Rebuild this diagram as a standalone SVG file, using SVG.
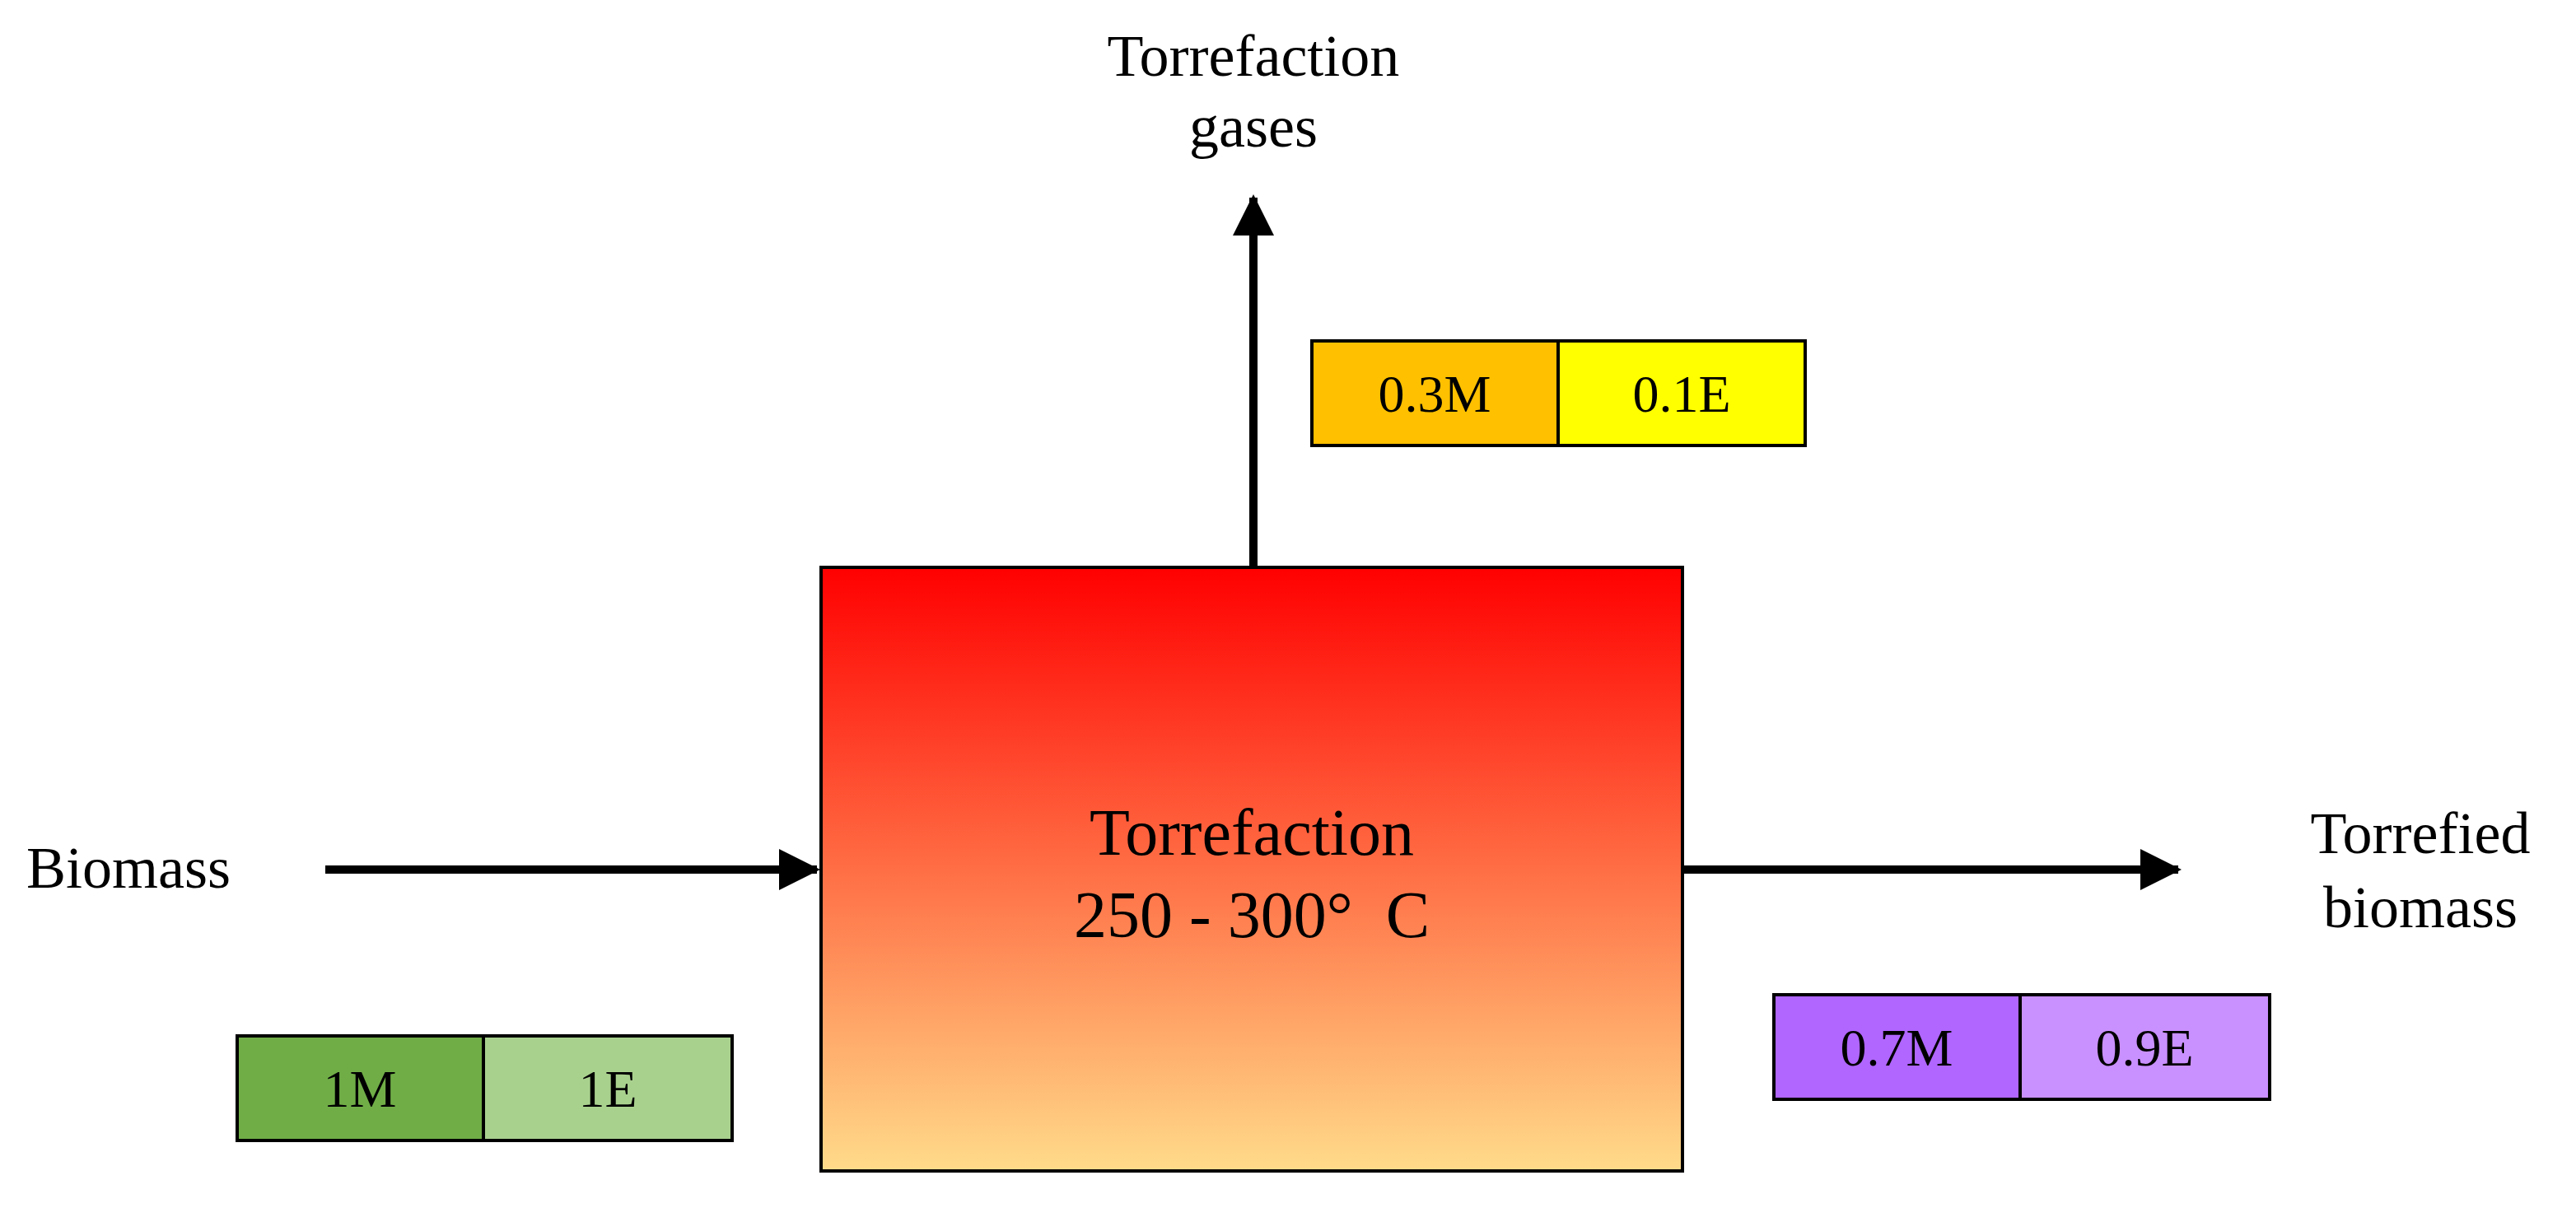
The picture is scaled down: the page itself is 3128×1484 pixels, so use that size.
<svg xmlns="http://www.w3.org/2000/svg" width="3128" height="1484" viewBox="0 0 3128 1484">
<style>
text{font-family:"Liberation Serif","DejaVu Serif",serif;fill:#000;white-space:pre}
.lbl{font-size:72px}
.big{font-size:80px}
.val{font-size:64px;text-anchor:middle}
.cell{stroke:#000;stroke-width:4}
.arr{stroke:#000;stroke-width:10;fill:none}
</style>
<defs>
<linearGradient id="heat" x1="0" y1="0" x2="0" y2="1">
<stop offset="0" stop-color="#FF0000"/>
<stop offset="0.5" stop-color="#FF6E45"/>
<stop offset="1" stop-color="#FFDB8A"/>
</linearGradient>
<marker id="ah" markerWidth="5" markerHeight="5" refX="4.6" refY="2.5" orient="auto" markerUnits="strokeWidth">
<path d="M0,0 L5,2.5 L0,5 Z" fill="#000"/>
</marker>
</defs>
<rect width="3128" height="1484" fill="#fff"/>
<g id="connectors">
<line class="arr" x1="1522" y1="688" x2="1522" y2="240" marker-end="url(#ah)"/>
<line class="arr" x1="395" y1="1056" x2="992" y2="1056" marker-end="url(#ah)"/>
<line class="arr" x1="2043" y1="1056" x2="2645" y2="1056" marker-end="url(#ah)"/>
</g>
<g id="torrefaction">
<rect x="997" y="689" width="1046" height="733" fill="url(#heat)" stroke="#000" stroke-width="4"/>
<text class="big" x="1520" y="1038" text-anchor="middle">Torrefaction</text>
<text class="big" x="1520" y="1138" text-anchor="middle">250 - 300°  C</text>
</g>
<g id="gases-label">
<text class="lbl" x="1522" y="92" text-anchor="middle">Torrefaction</text>
<text class="lbl" x="1522" y="178" text-anchor="middle">gases</text>
</g>
<g id="biomass-label">
<text class="lbl" x="32" y="1078">Biomass</text>
</g>
<g id="torrefied-label">
<text class="lbl" x="2939" y="1036" text-anchor="middle">Torrefied</text>
<text class="lbl" x="2939" y="1126" text-anchor="middle">biomass</text>
</g>
<g id="gases-values">
<rect class="cell" x="1593" y="414" width="299" height="127" fill="#FFC000"/>
<rect class="cell" x="1892" y="414" width="300" height="127" fill="#FFFF00"/>
<text class="val" x="1742" y="500">0.3M</text>
<text class="val" x="2042" y="500">0.1E</text>
</g>
<g id="biomass-values">
<rect class="cell" x="288" y="1258" width="299" height="127" fill="#70AD47"/>
<rect class="cell" x="587" y="1258" width="302" height="127" fill="#A9D18E"/>
<text class="val" x="437" y="1344">1M</text>
<text class="val" x="738" y="1344">1E</text>
</g>
<g id="torrefied-values">
<rect class="cell" x="2154" y="1208" width="299" height="127" fill="#B066FF"/>
<rect class="cell" x="2453" y="1208" width="303" height="127" fill="#C990FF"/>
<text class="val" x="2303" y="1294">0.7M</text>
<text class="val" x="2604" y="1294">0.9E</text>
</g>
</svg>
